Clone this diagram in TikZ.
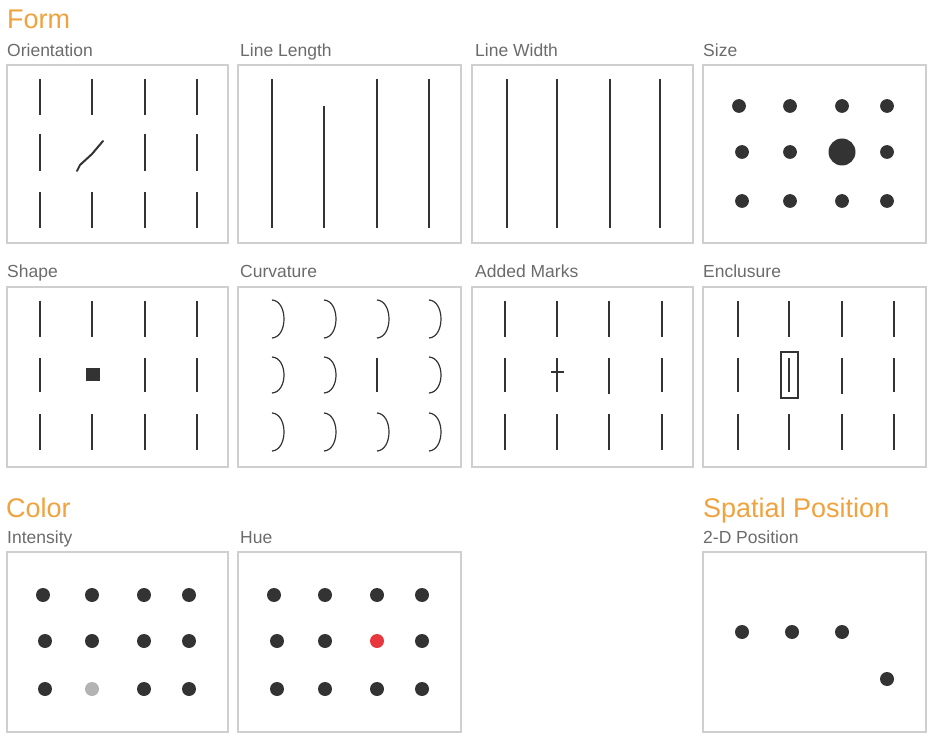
\documentclass[tikz,border=0pt]{standalone}
\usepackage{fontspec}
\setmainfont{Liberation Sans}
\definecolor{orangeT}{HTML}{F0A23E}
\definecolor{labelG}{HTML}{6B6B6B}
\definecolor{boxG}{HTML}{CFCFCF}
\definecolor{ink}{HTML}{333333}
\definecolor{redD}{HTML}{E8383D}
\definecolor{grayD}{HTML}{B3B3B3}
\tikzset{
  title/.style={anchor=base west, inner sep=0pt, text=orangeT, font=\fontsize{27}{27}\selectfont},
  lbl/.style={anchor=base west, inner sep=0pt, text=labelG, font=\fontsize{17.5}{17.5}\selectfont},
  panel/.style={draw=boxG, line width=1.2pt},
  bar/.style={draw=ink, line width=2pt},
  thinbar/.style={draw=ink, line width=1.2pt},
  dot/.style={fill=ink}
}
\begin{document}
\begin{tikzpicture}[x=1pt,y=-1pt]
\useasboundingbox (0,0) rectangle (935,746);
% titles
\node[title] (tform) at (7,29) {Form};
\node[title] (tcolor) at (6,517) {Color};
\node[title] (tspatial) at (703,517) {Spatial Position};
% labels
\node[lbl] (lor) at (7,57) {Orientation};
\node[lbl] (lll) at (240,57) {Line Length};
\node[lbl] (llw) at (475,57) {Line Width};
\node[lbl] (lsz) at (703,57) {Size};
\node[lbl] (lsh) at (7,278) {Shape};
\node[lbl] (lcu) at (240,278) {Curvature};
\node[lbl] (lam) at (475,278) {Added Marks};
\node[lbl] (len) at (703,278) {Enclusure};
\node[lbl] (lin) at (7,543) {Intensity};
\node[lbl] (lhu) at (240,543) {Hue};
\node[lbl] (l2d) at (703,543) {2-D Position};
% panels
\foreach \xa/\xb in {7/228, 238/461, 472/693, 703/926}{
  \draw[panel] (\xa,65) rectangle (\xb,243);
  \draw[panel] (\xa,287) rectangle (\xb,467);
}
\draw[panel] (7,552) rectangle (228,732);
\draw[panel] (238,552) rectangle (461,732);
\draw[panel] (703,552) rectangle (926,732);
% Orientation
\foreach \x in {40,92,145,197}{
  \draw[bar] (\x,79) -- (\x,115);
  \draw[bar] (\x,192) -- (\x,228);
}
\foreach \x in {40,145,197}{\draw[bar] (\x,134) -- (\x,171);}
\draw[bar, line cap=round] (77,171) -- (80,165) -- (92,154) -- (103,141);
% Line length
\foreach \x in {272,377,429}{\draw[bar] (\x,79) -- (\x,228);}
\draw[bar] (324,106) -- (324,228);
% Line width
\draw[draw=ink, line width=1.3pt] (507,79) -- (507,228);
\draw[draw=ink, line width=1.2pt] (557,79) -- (557,228);
\draw[draw=ink, line width=2.8pt] (610,79) -- (610,228);
\draw[draw=ink, line width=1.2pt] (660,79) -- (660,228);
% Size
\foreach \x/\y in {739/106,790/106,842/106,887/106, 742/152,790/152,887/152, 742/201,790/201,842/201,887/201}{
  \fill[dot] (\x,\y) circle (6.9);
}
\fill[dot] (842,152) circle (13.5);
% Shape
\foreach \x in {40,92,145,197}{
  \draw[bar] (\x,301) -- (\x,337);
  \draw[bar] (\x,414) -- (\x,450);
}
\foreach \x in {40,145,197}{\draw[bar] (\x,358) -- (\x,392);}
\fill[ink] (86,368) rectangle (99.5,381);
% Curvature
\foreach \x in {272,324,377,429}{
  \draw[thinbar] (\x,300) .. controls (\x+16,301) and (\x+16,337) .. (\x,338);
  \draw[thinbar] (\x,413) .. controls (\x+16,414) and (\x+16,450) .. (\x,451);
}
\foreach \x in {272,324,429}{
  \draw[thinbar] (\x,357) .. controls (\x+16,358) and (\x+16,392) .. (\x,393);
}
\draw[thinbar] (377,358) -- (377,392);
% Added marks
\foreach \x in {505,557,662}{
  \draw[bar] (\x,301) -- (\x,337);
  \draw[bar] (\x,358) -- (\x,392);
  \draw[bar] (\x,414) -- (\x,450);
}
\foreach \y in {301,358,414}{\draw[thinbar] (609,\y) -- (609,\y+36);}
\draw[thinbar] (551,372) -- (564,372);
% Enclosure
\foreach \x in {738,789,894}{
  \draw[bar] (\x,301) -- (\x,337);
  \draw[bar] (\x,358) -- (\x,392);
  \draw[bar] (\x,414) -- (\x,450);
}
\foreach \y in {301,358,414}{\draw[thinbar] (842,\y) -- (842,\y+36);}
\draw[draw=ink, line width=1.1pt] (781,352) rectangle (798,398);
% Intensity
\foreach \x/\y in {43/595,92/595,144/595,189/595, 45/641,92/641,144/641,189/641, 45/689,144/689,189/689}{
  \fill[dot] (\x,\y) circle (7);
}
\fill[grayD] (92,689) circle (7);
% Hue
\foreach \x/\y in {274/595,325/595,377/595,422/595, 277/641,325/641,422/641, 277/689,325/689,377/689,422/689}{
  \fill[dot] (\x,\y) circle (7);
}
\fill[redD] (377,641) circle (7);
% Spatial
\foreach \x/\y in {742/632,792/632,842/632,887/679}{
  \fill[dot] (\x,\y) circle (7);
}
\end{tikzpicture}
\end{document}
